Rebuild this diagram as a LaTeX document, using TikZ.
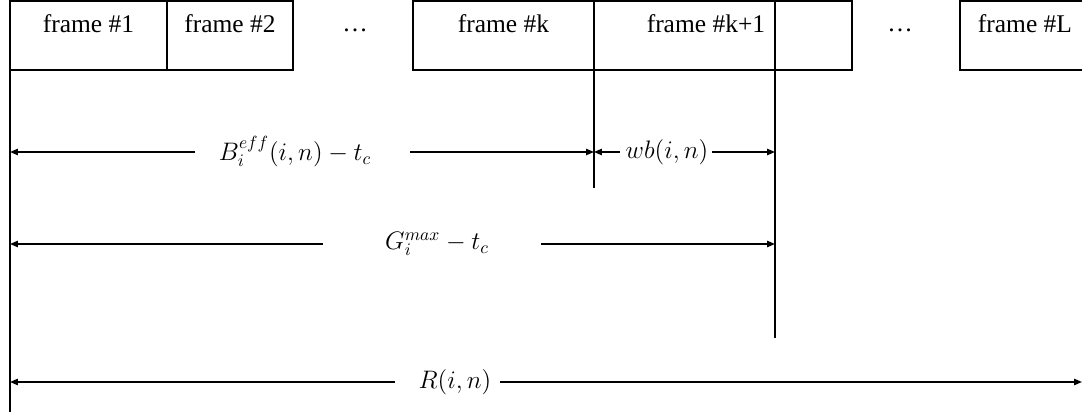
\documentclass[tikz,border=0pt]{standalone}
\usepackage{fontspec}
\setmainfont{Liberation Serif}
\usetikzlibrary{arrows.meta, positioning, calc}
\tikzset{
    frame/.style={draw=black, line width=1.5pt, inner sep=0pt, outer sep=0pt, minimum height=1.38cm,
        text height=18pt, text depth=21pt, font=\fontsize{14.5}{17}\selectfont},
    vline/.style={line width=0.8pt, black},
    dim/.style={-{Triangle[length=4.5pt,width=3.6pt]}, line width=0.8pt, black},
    lbl/.style={font=\fontsize{14.5}{17}\selectfont, inner sep=0pt},
    mathlbl/.style={font=\fontsize{14}{16}\selectfont, inner sep=0pt}
}

\begin{document}
\begin{tikzpicture}[x=0.02cm, y=0.02cm]
    \useasboundingbox (0,0) rectangle (1082,412);
    % frames
    \node[frame, anchor=north west, minimum width=3.14cm] (f1) at (10,411) {frame \#1};
    \node[frame, minimum width=2.52cm, right=0pt of f1] (f2) {frame \#2};
    \node[frame, anchor=north west, minimum width=3.62cm] (fk) at (413,411) {frame \#k};
    \node[frame, minimum width=5.16cm, right=0pt of fk] (fk1) {frame \#k+1\kern0.68cm};
    \node[frame, anchor=north west, minimum width=2.6cm] (fL) at (960,411) {frame \#L};
    \node[lbl] (dots1) at (355,382) {…};
    \node[lbl] (dots2) at (900,382) {…};
    % marks
    \coordinate (origin) at (10,0);
    \coordinate (kcut) at (594,224);
    \coordinate (wtop) at (775,411);
    \coordinate (wbot) at (775,74);
    \draw[vline] (f1.south west) -- (origin);
    \draw[vline] (fk.north east) -- (fk.north east |- kcut);
    \draw[vline] (wtop) -- (wbot);
    % B^eff row
    \node[mathlbl] (beff) at (295,260) {$B_i^{eff}(i,n)-t_c$};
    \coordinate (beffl) at (195,260);
    \coordinate (beffr) at (410,260);
    \draw[dim] (beffl) -- (origin |- beff);
    \draw[dim] (beffr) -- (fk.south east |- beff);
    \node[mathlbl] (wb) at (667,260) {$wb(i,n)$};
    \coordinate (wbl) at (620,260);
    \coordinate (wbr) at (712,260);
    \draw[dim] (wbl) -- (fk.south east |- wb);
    \draw[dim] (wbr) -- (wbot |- wb);
    % G^max row
    \node[mathlbl] (gmax) at (437,168) {$G_i^{max}-t_c$};
    \coordinate (gl) at (323,168);
    \coordinate (gr) at (541,168);
    \draw[dim] (gl) -- (origin |- gmax);
    \draw[dim] (gr) -- (wbot |- gmax);
    % R row
    \node[mathlbl] (rin) at (455,30) {$R(i,n)$};
    \coordinate (rl) at (395,30);
    \coordinate (rr) at (500,30);
    \coordinate (rend) at (1082,30);
    \draw[dim] (rl) -- (origin |- rin);
    \draw[dim] (rr) -- (rend);
\end{tikzpicture}
\end{document}
